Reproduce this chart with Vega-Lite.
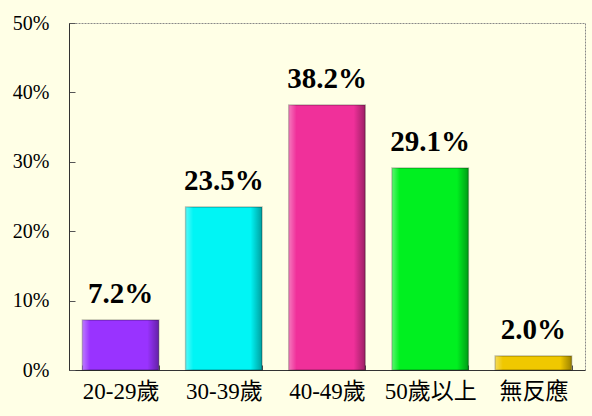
{
  "$schema": "https://vega.github.io/schema/vega-lite/v6.json",
  "width": 516,
  "height": 347,
  "autosize": {"type": "none"},
  "padding": {"left": 69, "top": 23, "right": 7, "bottom": 46},
  "background": "#FFFFE6",
  "view": {"stroke": "#888888", "strokeDash": [2, 1], "strokeWidth": 1},
  "data": {
    "values": [
      {"group": "20-29歲", "value": 0.072},
      {"group": "30-39歲", "value": 0.235},
      {"group": "40-49歲", "value": 0.382},
      {"group": "50歲以上", "value": 0.291},
      {"group": "無反應", "value": 0.020}
    ]
  },
  "encoding": {
    "x": {
      "field": "group",
      "type": "nominal",
      "sort": null,
      "scale": {"paddingInner": 0.26, "paddingOuter": 0.13},
      "axis": {
        "title": null,
        "labelAngle": 0,
        "labelFont": "Liberation Serif, Noto Sans CJK TC",
        "labelFontSize": 23,
        "labelColor": "#000000",
        "labelPadding": 15,
        "domainColor": "#333333",
        "tickColor": "#555555",
        "tickBand": "extent",
        "tickSize": -5
      }
    },
    "y": {
      "field": "value",
      "type": "quantitative",
      "scale": {"domain": [0, 0.5], "nice": false},
      "axis": {
        "title": null,
        "values": [0, 0.1, 0.2, 0.3, 0.4, 0.5],
        "format": ".0%",
        "grid": false,
        "labelFont": "Liberation Serif",
        "labelFontSize": 20,
        "labelColor": "#000000",
        "labelPadding": 26,
        "domainColor": "#333333",
        "tickColor": "#555555",
        "tickSize": -6
      }
    }
  },
  "layer": [
    {
      "mark": {"type": "bar", "strokeWidth": 1.5, "stroke": "#00000040"},
      "encoding": {
        "color": {
          "field": "group",
          "type": "nominal",
          "sort": null,
          "scale": {"range": ["#9933FF", "#00F5F5", "#F0309A", "#00F020", "#F0C800"]},
          "legend": null
        }
      }
    },
    {
      "mark": {
        "type": "bar",
        "fill": {
          "gradient": "linear",
          "x1": 0, "x2": 1, "y1": 0, "y2": 0,
          "stops": [
            {"offset": 0, "color": "rgba(255,255,255,0.35)"},
            {"offset": 0.1, "color": "rgba(255,255,255,0)"},
            {"offset": 0.85, "color": "rgba(0,0,0,0)"},
            {"offset": 1, "color": "rgba(0,0,0,0.35)"}
          ]
        }
      }
    },
    {
      "mark": {
        "type": "text",
        "font": "Liberation Serif",
        "fontWeight": "bold",
        "fontSize": 29,
        "baseline": "alphabetic",
        "dy": -17,
        "color": "#000000"
      },
      "encoding": {
        "text": {"field": "value", "type": "quantitative", "format": ".1%"}
      }
    }
  ]
}
